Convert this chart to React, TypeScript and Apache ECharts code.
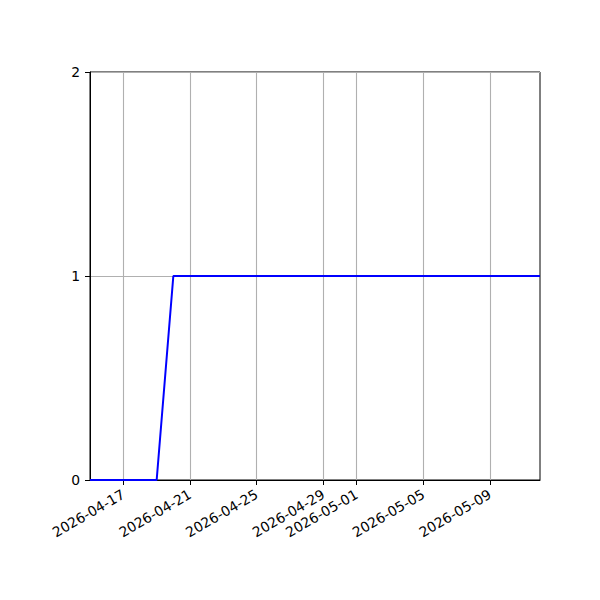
import { useEffect, useRef } from "react";
import * as echarts from "echarts";

// daily values, 2026-04-15 .. 2026-05-12
const startDate = "2026-04-15";
const endDate = "2026-05-12";
const dailyValues = [
  0, 0, 0, 0, 0,
  1, 1, 1, 1, 1, 1, 1, 1, 1, 1, 1,
  1, 1, 1, 1, 1, 1, 1, 1, 1, 1, 1, 1,
];
const xTickDates = [
  "2026-04-17",
  "2026-04-21",
  "2026-04-25",
  "2026-04-29",
  "2026-05-01",
  "2026-05-05",
  "2026-05-09",
];
const yTicks = [0, 1, 2];

const DAY = 86400000;
const toMs = (s: string) => {
  const [y, m, d] = s.split("-").map(Number);
  return Date.UTC(y, m - 1, d);
};
const pad = (n: number) => String(n).padStart(2, "0");
const fmt = (ms: number) => {
  const d = new Date(ms);
  return `${d.getUTCFullYear()}-${pad(d.getUTCMonth() + 1)}-${pad(d.getUTCDate())}`;
};

export default function App() {
  const chartRef = useRef<HTMLDivElement>(null);

  useEffect(() => {
    if (!chartRef.current) return;
    const chart = echarts.init(chartRef.current, undefined, { renderer: "svg" });

    const t0 = toMs(startDate);
    const points = dailyValues.map((v, i) => [t0 + i * DAY, v]);
    const font = "DejaVu Sans";

    chart.setOption({
      animation: false,
      textStyle: { fontFamily: font },
      grid: {
        left: 90,
        right: 60,
        top: 72,
        bottom: 120,
        show: true,
        borderColor: "#000",
        borderWidth: 1,
        backgroundColor: "transparent",
      },
      xAxis: {
        type: "value",
        min: toMs(startDate),
        max: toMs(endDate),
        axisLine: { show: true, onZero: false, lineStyle: { color: "#000", width: 1 } },
        axisTick: {
          show: true,
          length: 5,
          lineStyle: { color: "#000", width: 1 },
          customValues: xTickDates.map(toMs),
        },
        axisLabel: {
          customValues: xTickDates.map(toMs),
          formatter: (v: number) => fmt(v),
          rotate: 30,
          margin: 13,
          color: "#000",
          fontSize: 13.9,
          fontFamily: font,
        },
        splitLine: { show: true, lineStyle: { color: "#b0b0b0", width: 1.1 } },
      },
      yAxis: {
        type: "value",
        min: 0,
        max: 2,
        interval: 1,
        axisLine: { show: true, lineStyle: { color: "#000", width: 1 } },
        axisTick: {
          show: true,
          length: 5,
          lineStyle: { color: "#000", width: 1 },
          customValues: yTicks,
        },
        axisLabel: {
          customValues: yTicks,
          margin: 10,
          color: "#000",
          fontSize: 13.9,
          fontFamily: font,
        },
        splitLine: { show: true, lineStyle: { color: "#b0b0b0", width: 1.1 } },
      },
      series: [
        {
          type: "line",
          data: points,
          showSymbol: false,
          symbol: "none",
          lineStyle: { color: "#0000ff", width: 2 },
          z: 1,
        },
      ],
    });

    return () => chart.dispose();
  }, []);

  return (
    <div
      ref={chartRef}
      style={{ position: "absolute", left: 0, top: 0, width: 600, height: 600 }}
    />
  );
}
